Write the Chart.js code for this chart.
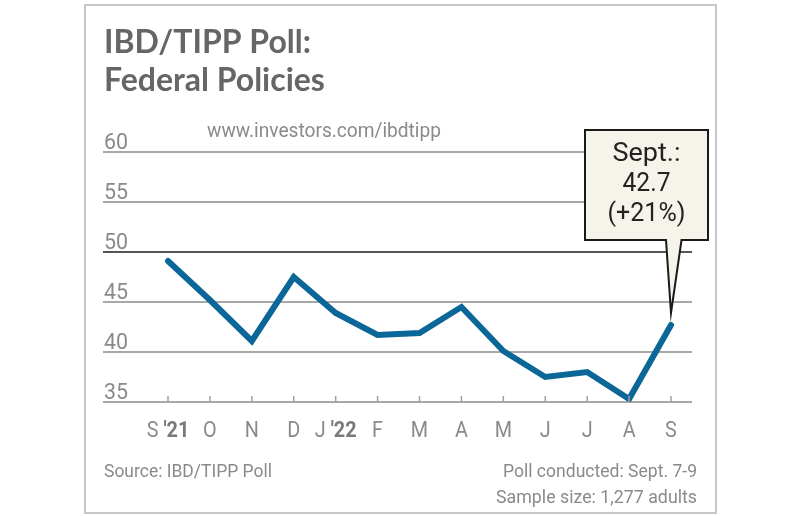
<!DOCTYPE html>
<html>
<head>
<meta charset="utf-8">
<script src="https://cdn.jsdelivr.net/npm/chart.js@4"></script>
<style>
  html, body { margin: 0; padding: 0; background: #ffffff; }
  #wrap { width: 798px; height: 516px; position: relative; }
</style>
</head>
<body>
<div id="wrap"><canvas id="c" width="798" height="516"></canvas></div>
<script>
// ---- data ----
const months = ['S', 'O', 'N', 'D', 'J', 'F', 'M', 'A', 'M', 'J', 'J', 'A', 'S'];
const years  = ["'21", '', '', '', "'22", '', '', '', '', '', '', '', ''];
const values = [49.1, 45.2, 41.1, 47.5, 43.9, 41.7, 41.9, 44.5, 40.1, 37.5, 38.0, 35.3, 42.7];
const yTicks = [35, 40, 45, 50, 55, 60];
const titleLines = ['IBD/TIPP Poll:', 'Federal Policies'];
const subtitle = 'www.investors.com/ibdtipp';
const calloutLines = ['Sept.:', '42.7', '(+21%)'];
const sourceText = 'Source: IBD/TIPP Poll';
const noteLines = ['Poll conducted: Sept. 7-9', 'Sample size: 1,277 adults'];

const points = values.map((v, i) => ({ x: i, y: v }));

function fitText(ctx, text, x, y, align, targetW) {
  const w = ctx.measureText(text).width;
  const s = targetW ? targetW / w : 1;
  ctx.save();
  ctx.translate(x, y);
  ctx.scale(s, 1);
  ctx.textAlign = align;
  ctx.fillText(text, 0, 0);
  ctx.restore();
}

const decor = {
  id: 'decor',
  beforeDraw(chart) {
    const ctx = chart.ctx;
    ctx.save();
    ctx.fillStyle = '#ffffff';
    ctx.fillRect(0, 0, chart.width, chart.height);
    // frame
    ctx.strokeStyle = '#c6c6c6';
    ctx.lineWidth = 2;
    ctx.strokeRect(85, 5, 631, 508);
    ctx.restore();
  },
  afterDatasetsDraw(chart) {
    const ctx = chart.ctx;
    const xs = chart.scales.x, ys = chart.scales.y;
    ctx.save();
    ctx.textBaseline = 'alphabetic';
    // title
    ctx.fillStyle = '#666666';
    ctx.font = 'bold 32px Lato';
    fitText(ctx, titleLines[0], 104, 53, 'left');
    fitText(ctx, titleLines[1], 104, 91, 'left');
    // subtitle
    ctx.fillStyle = '#8a8a8a';
    ctx.font = '20px Roboto';
    fitText(ctx, subtitle, 207, 137, 'left', 234);
    // y labels
    ctx.fillStyle = '#8a8a8a';
    ctx.font = '22px Roboto';
    yTicks.forEach(t => {
      const py = ys.getPixelForValue(t);
      fitText(ctx, String(t), 104, py - 3, 'left', 24);
    });
    // x tick marks & labels
    const bottom = ys.getPixelForValue(35);
    ctx.strokeStyle = '#a0a0a0';
    ctx.lineWidth = 1.5;
    const sx = 0.9;
    months.forEach((m, i) => {
      const px = xs.getPixelForValue(i);
      ctx.beginPath();
      ctx.moveTo(px, bottom - 6);
      ctx.lineTo(px, bottom);
      ctx.stroke();
      ctx.font = '22px Roboto';
      const a = years[i] ? m + ' ' : m;
      const wa = ctx.measureText(a).width * sx;
      ctx.font = 'bold 22px Roboto';
      const wb = years[i] ? ctx.measureText(years[i]).width * sx : 0;
      const start = px - (wa + wb) / 2;
      ctx.save();
      ctx.translate(start, 437);
      ctx.scale(sx, 1);
      ctx.textAlign = 'left';
      ctx.fillStyle = '#8a8a8a';
      ctx.font = '22px Roboto';
      ctx.fillText(a, 0, 0);
      if (years[i]) {
        ctx.font = 'bold 22px Roboto';
        ctx.fillStyle = '#7a7a7a';
        ctx.fillText(years[i], wa / sx, 0);
      }
      ctx.restore();
    });
    // callout
    const last = values.length - 1;
    const tipX = xs.getPixelForValue(last);
    const tipY = ys.getPixelForValue(values[last]) - 12;
    const bx0 = 585, bx1 = 708, by0 = 130, by1 = 240;
    ctx.beginPath();
    ctx.moveTo(bx0, by0);
    ctx.lineTo(bx1, by0);
    ctx.lineTo(bx1, by1);
    ctx.lineTo(tipX + 10.5, by1);
    ctx.lineTo(tipX, tipY);
    ctx.lineTo(tipX - 5, by1);
    ctx.lineTo(bx0, by1);
    ctx.closePath();
    ctx.fillStyle = '#f6f3eb';
    ctx.fill();
    ctx.strokeStyle = '#1a1a1a';
    ctx.lineWidth = 2;
    ctx.lineJoin = 'miter';
    ctx.stroke();
    ctx.fillStyle = '#222222';
    ctx.font = '26px Roboto';
    const cx = 646.5;
    fitText(ctx, calloutLines[0], cx, 161, 'center', 68);
    fitText(ctx, calloutLines[1], cx, 191, 'center', 48);
    fitText(ctx, calloutLines[2], cx, 221, 'center', 78);
    // footer
    ctx.fillStyle = '#8a8a8a';
    ctx.font = '19px Roboto';
    fitText(ctx, sourceText, 104, 477, 'left', 168);
    fitText(ctx, noteLines[0], 697, 477, 'right', 194);
    fitText(ctx, noteLines[1], 697, 503, 'right', 201);
    ctx.restore();
  }
};

const pxPerUnit = (671 - 168) / 12;

new Chart(document.getElementById('c'), {
  type: 'line',
  data: {
    datasets: [{
      data: points,
      borderColor: '#0b6797',
      borderWidth: 6,
      borderCapStyle: 'round',
      borderJoinStyle: 'miter',
      tension: 0,
      pointRadius: 0,
      fill: false
    }]
  },
  options: {
    responsive: false,
    animation: false,
    events: [],
    layout: { padding: { left: 103, right: 798 - 692, top: 152, bottom: 516 - 402 } },
    plugins: { legend: { display: false }, tooltip: { enabled: false } },
    scales: {
      x: {
        type: 'linear',
        display: false,
        min: -(168 - 103) / pxPerUnit,
        max: 12 + (692 - 671) / pxPerUnit
      },
      y: {
        type: 'linear',
        min: 35,
        max: 60,
        afterBuildTicks(scale) { scale.ticks = yTicks.map(v => ({ value: v })); },
        ticks: { display: false },
        border: { display: false },
        grid: {
          drawTicks: false,
          lineWidth: 2,
          color: ctx => (ctx.tick && ctx.tick.value === 50) ? '#555555' : '#a8a8a8'
        }
      }
    }
  },
  plugins: [decor]
});
</script>
</body>
</html>
